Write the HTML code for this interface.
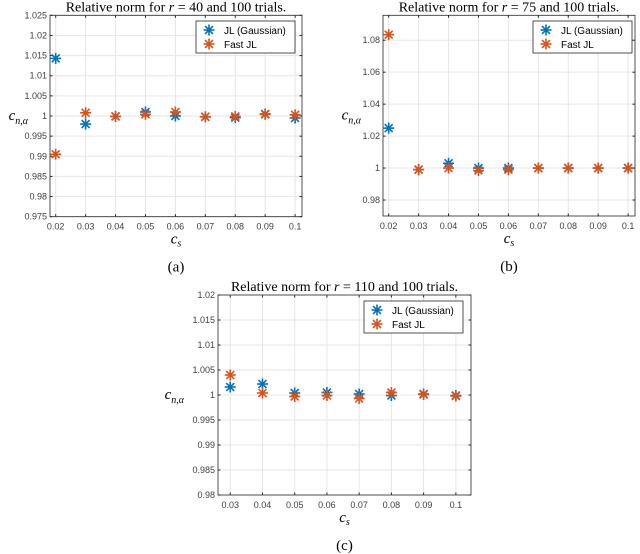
<!DOCTYPE html>
<html><head><meta charset="utf-8"><style>
body{margin:0;background:#fff;width:640px;height:554px;overflow:hidden}
svg{position:absolute;left:0;top:0}
text{font-family:"Liberation Sans",sans-serif}
.serif{font-family:"Liberation Serif",serif}
</style></head><body>
<svg id="fig" width="640" height="554"></svg>
<script>
const xCatsA=[0.02,0.03,0.04,0.05,0.06,0.07,0.08,0.09,0.1];
const jlA=[1.0143,0.998,0.9999,1.001,1.0,0.9998,0.9996,1.0005,0.9995];
const fastA=[0.9905,1.0008,0.9999,1.0004,1.001,0.9998,0.9999,1.0004,1.0003];
const yTicksA=[0.975,0.98,0.985,0.99,0.995,1,1.005,1.01,1.015,1.02,1.025];
const xCatsB=[0.02,0.03,0.04,0.05,0.06,0.07,0.08,0.09,0.1];
const jlB=[1.025,0.999,1.003,1.0,1.0,1.0,1.0,1.0,1.0];
const fastB=[1.0835,0.999,1.0,0.9985,0.999,1.0,1.0,1.0,1.0];
const yTicksB=[0.98,1,1.02,1.04,1.06,1.08];
const xCatsC=[0.03,0.04,0.05,0.06,0.07,0.08,0.09,0.1];
const jlC=[1.0016,1.0022,1.0004,1.0005,1.0002,0.9999,1.0002,0.9999];
const fastC=[1.004,1.0004,0.9997,0.9999,0.9993,1.0005,1.0001,0.9998];
const yTicksC=[0.98,0.985,0.99,0.995,1,1.005,1.01,1.015,1.02];

const NS="http://www.w3.org/2000/svg";
const svg=document.getElementById('fig');
function el(tag,attrs,parent,txt){const e=document.createElementNS(NS,tag);for(const k in attrs)e.setAttribute(k,attrs[k]);if(txt!==undefined)e.textContent=txt;(parent||svg).appendChild(e);return e;}
const BLUE="#0072BD",ORANGE="#D95319";
function star(g,cx,cy,c){const r=5.5,d=r*0.72;
 const s=el('g',{},g);
 
 
 [[cx-r,cy,cx+r,cy],[cx,cy-r,cx,cy+r],[cx-d,cy-d,cx+d,cy+d],[cx-d,cy+d,cx+d,cy-d]].forEach(l=>el('line',{x1:l[0],y1:l[1],x2:l[2],y2:l[3],stroke:c,'stroke-width':1.6},s));}
function fmt(v){return String(+v.toFixed(3));}
function panel(o){
 const g=el('g',{});
 
 
 const X=v=>o.x0+(v-o.xmin)/(o.xmax-o.xmin)*(o.x1-o.x0);
 const Y=v=>o.y1-(v-o.ymin)/(o.ymax-o.ymin)*(o.y1-o.y0);
 el('rect',{x:o.x0,y:o.y0,width:o.x1-o.x0,height:o.y1-o.y0,fill:'#fff'},g);
 o.xc.forEach(v=>{const x=X(v);el('line',{x1:x,y1:o.y0,x2:x,y2:o.y1,stroke:'#e6e6e6','stroke-width':1},g);
  el('line',{x1:x,y1:o.y1,x2:x,y2:o.y1-2.5,stroke:'#262626'},g);el('line',{x1:x,y1:o.y0,x2:x,y2:o.y0+2.5,stroke:'#262626'},g);
  const t=el('text',{x:x,y:o.y1+13,'font-size':9,fill:'#404040','text-anchor':'middle'},g,fmt(v));
  });
 o.yt.forEach(v=>{const y=Y(v);el('line',{x1:o.x0,y1:y,x2:o.x1,y2:y,stroke:'#e6e6e6','stroke-width':1},g);
  el('line',{x1:o.x0,y1:y,x2:o.x0+2.5,y2:y,stroke:'#262626'},g);el('line',{x1:o.x1,y1:y,x2:o.x1-2.5,y2:y,stroke:'#262626'},g);
  const t=el('text',{x:o.x0-3,y:y+3,'font-size':9,fill:'#404040','text-anchor':'end'},g,fmt(v));
  });
 el('rect',{x:o.x0,y:o.y0,width:o.x1-o.x0,height:o.y1-o.y0,fill:'none',stroke:'#262626','stroke-width':0.8},g);
 o.xc.forEach((v,i)=>star(g,X(v),Y(o.jl[i]),BLUE));
 o.xc.forEach((v,i)=>star(g,X(v),Y(o.fa[i]),ORANGE));
 const tt=el('text',{x:(o.x0+o.x1)/2,y:o.y0-4,'font-size':14,'text-anchor':'middle',class:'serif'},g);
 
 tt.innerHTML='Relative norm for <tspan font-style="italic">r</tspan> = '+o.r+' and 100 trials.';
 const yl=el('text',{x:o.x0-o.ylOff,y:(o.y0+o.y1)/2+4,'font-size':15,'text-anchor':'end',class:'serif','font-style':'italic'},g);
 
 yl.innerHTML='c<tspan font-size="10" dy="4">n,α</tspan>';
 const xl=el('text',{x:(o.x0+o.x1)/2,y:o.y1+27,'font-size':15,'text-anchor':'middle',class:'serif','font-style':'italic'},g);
 
 xl.innerHTML='c<tspan font-size="10" dy="3">s</tspan>';
 const cap=el('text',{x:(o.x0+o.x1)/2,y:o.y1+55,'font-size':15,'text-anchor':'middle',class:'serif'},g,o.cap);
 
 const lg=el('g',{},g);
 
 el('rect',{x:o.lx,y:o.ly,width:99,height:32,fill:'#fff',stroke:'#262626','stroke-width':0.8},lg);
 star(lg,o.lx+13,o.ly+9,BLUE);star(lg,o.lx+13,o.ly+23,ORANGE);
 const l1=el('text',{x:o.lx+28,y:o.ly+13,'font-size':10,fill:'#000'},lg,'JL (Gaussian)');
 
 const l2=el('text',{x:o.lx+28,y:o.ly+27,'font-size':10,fill:'#000'},lg,'Fast JL');
 
}
panel({name:'panel-a',x0:50,x1:302,y0:15.3,y1:216.7,xmin:0.0181,xmax:0.1023,ymin:0.975,ymax:1.025,xc:xCatsA,jl:jlA,fa:fastA,yt:yTicksA,r:40,cap:'(a)',lx:196,ly:21,ylOff:22});
panel({name:'panel-b',x0:383,x1:635,y0:15.3,y1:216,xmin:0.0181,xmax:0.1023,ymin:0.97,ymax:1.0956,xc:xCatsB,jl:jlB,fa:fastB,yt:yTicksB,r:75,cap:'(b)',lx:533,ly:21,ylOff:22});
panel({name:'panel-c',x0:218,x1:471,y0:295,y1:495,xmin:0.0262,xmax:0.1047,ymin:0.98,ymax:1.02,xc:xCatsC,jl:jlC,fa:fastC,yt:yTicksC,r:110,cap:'(c)',lx:364,ly:301,ylOff:34});
</script>
</body></html>
